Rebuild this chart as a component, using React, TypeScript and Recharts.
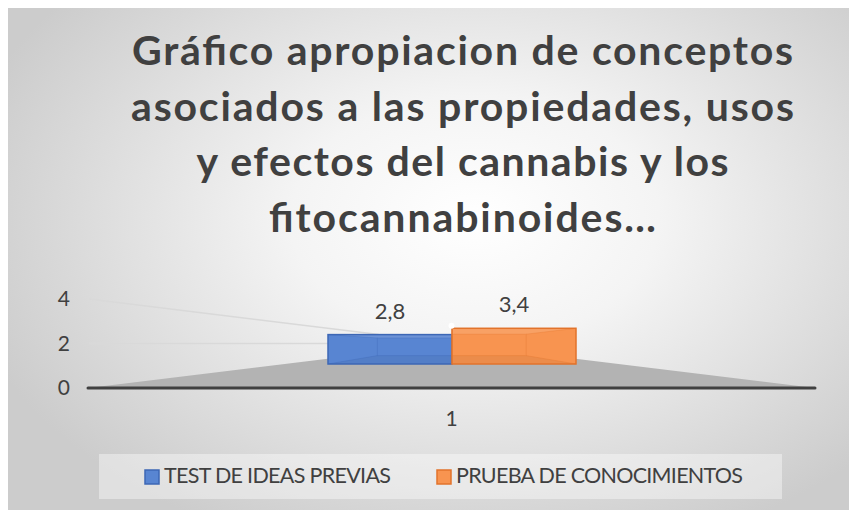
import { ComposedChart, Bar, Line, XAxis, YAxis, LabelList } from "recharts";

const categories = ["1"];
const testIdeasPrevias = [2.8];
const pruebaConocimientos = [3.4];
const yTicks = [0, 2, 4];
const seriesNames = ["TEST DE IDEAS PREVIAS", "PRUEBA DE CONOCIMIENTOS"];
const titleLines = [
  "Gráfico apropiacion de conceptos",
  "asociados a las propiedades, usos",
  "y efectos del cannabis y los",
  "fitocannabinoides…",
];

const data = categories.map((c, i) => ({
  name: c,
  test: testIdeasPrevias[i],
  prueba: pruebaConocimientos[i],
}));

const FONT = "Lato, 'Open Sans', sans-serif";
const INK = "#404040";
const BLUE = { fill: "#5885d2", stroke: "#3d67b5" };
const ORANGE = { fill: "#f89450", stroke: "#e2732b" };

const W = 849;
const H = 502;
const PLOT = { left: 80, right: 807, top: 291, bottom: 380 };
const BAR_SIZE = 124;
const BAR_BASE = 356; // where the boxes stand
const BAR_UNIT = 10.5; // px per unit on the boxes' plane
const HORIZON = 2; // eye level in axis units
const WALL_DEPTH = 0.2;
const BOX_DEPTH = 0.6;

const frontUnit = (PLOT.bottom - PLOT.top) / 4;
const vp = { x: (PLOT.left + PLOT.right) / 2, y: PLOT.bottom - HORIZON * frontUnit };
const toBack = (x: number, y: number, k: number) => [vp.x + (x - vp.x) * k, vp.y + (y - vp.y) * k];

const fmt = (v: any) => String(v).replace(".", ",");

function Box(props: any) {
  const { x, y, width, height, fill, stroke } = props;
  if (!height) return null;
  const right = x + width;
  const bottom = y + height;
  const cx = vp.x;
  const cy = bottom - HORIZON * BAR_UNIT;
  const b = (px: number, py: number) => [cx + (px - cx) * BOX_DEPTH, cy + (py - cy) * BOX_DEPTH];
  const [blx, bty] = b(x, y);
  const [brx, bby] = b(right, bottom);
  return (
    <g>
      <rect x={x} y={y} width={width} height={height} fill={fill} />
      <polygon points={`${x},${y} ${right},${y} ${brx},${bty} ${blx},${bty}`} fill="#fff" fillOpacity={0.12} />
      <polygon points={`${x},${bottom} ${right},${bottom} ${brx},${bby} ${blx},${bby}`} fill="#000" fillOpacity={0.05} />
      <g stroke={stroke} strokeOpacity={0.3} fill="none">
        <rect x={blx} y={bty} width={brx - blx} height={bby - bty} />
        <line x1={x} y1={y} x2={blx} y2={bty} />
        <line x1={right} y1={y} x2={brx} y2={bty} />
        <line x1={x} y1={bottom} x2={blx} y2={bby} />
        <line x1={right} y1={bottom} x2={brx} y2={bby} />
      </g>
      <rect x={x} y={y} width={width} height={height} fill="none" stroke={stroke} strokeWidth={1.5} />
    </g>
  );
}

function Backdrop() {
  const [blx, bly] = toBack(PLOT.left, PLOT.bottom, WALL_DEPTH);
  const [brx, bry] = toBack(PLOT.right, PLOT.bottom, WALL_DEPTH);
  const legendItems = [
    { name: seriesNames[0], ...BLUE, x: 137, len: 227 },
    { name: seriesNames[1], ...ORANGE, x: 429, len: 287 },
  ];
  return (
    <svg width={W} height={H} style={{ position: "absolute", left: 0, top: 0 }}>
      <polygon
        points={`${PLOT.left},${PLOT.bottom} ${PLOT.right},${PLOT.bottom} ${brx},${bry} ${blx},${bly}`}
        fill="#b3b3b3"
      />
      {yTicks
        .filter((t) => t > 0)
        .map((t) => {
          const fy = PLOT.bottom - t * frontUnit;
          const [bx, by] = toBack(PLOT.left, fy, WALL_DEPTH);
          return <line key={t} x1={PLOT.left + 1} y1={fy} x2={bx} y2={by} stroke="#d9d9d9" strokeWidth={1.5} />;
        })}
      {titleLines.map((line, i) => (
        <text
          key={i}
          x={454.5}
          y={57 + i * 55.5}
          textAnchor="middle"
          fontFamily={FONT}
          fontWeight={700}
          fontSize={41}
          fill={INK}
          textLength={[661, 663, 532, 387][i]}
        >
          {line}
        </text>
      ))}
      <rect x={91} y={446} width={683} height={45} fill="#fff" fillOpacity={0.4} />
      {legendItems.map((it) => (
        <g key={it.name}>
          <rect x={it.x} y={462} width={14} height={14} fill={it.fill} stroke={it.stroke} strokeWidth={1.5} />
          <text x={it.x + 19} y={475} fontFamily={FONT} fontSize={21.5} fill={INK} textLength={it.len}>
            {it.name}
          </text>
        </g>
      ))}
    </svg>
  );
}

export default function App() {
  const barDomain = [-(PLOT.bottom - BAR_BASE) / BAR_UNIT, (BAR_BASE - PLOT.top) / BAR_UNIT];
  return (
    <div
      style={{
        position: "relative",
        width: W,
        height: H,
        background:
          "radial-gradient(ellipse 62% 70% at 55% 42%, #ffffff 0%, #f4f4f4 35%, #d8d8d8 80%, #cccccc 100%)",
        fontFamily: FONT,
      }}
    >
      <Backdrop />
      <div style={{ position: "absolute", left: 0, top: 0 }}>
        <ComposedChart
          width={W}
          height={H}
          data={data}
          margin={{ top: PLOT.top, right: W - PLOT.right, bottom: H - PLOT.bottom - 30, left: 40 }}
          barSize={BAR_SIZE}
          barGap={0}
        >
          <XAxis
            dataKey="name"
            height={30}
            tickLine={false}
            tickSize={0}
            tickMargin={23}
            axisLine={{ stroke: "#404040", strokeWidth: 3, strokeLinecap: "round" }}
            tick={{ fill: INK, fontSize: 21, fontFamily: FONT }}
          />
          <YAxis
            yAxisId="front"
            width={40}
            type="number"
            domain={[0, 4]}
            ticks={yTicks}
            axisLine={false}
            tickLine={false}
            tickSize={0}
            tickMargin={18}
            tick={{ fill: INK, fontSize: 21, fontFamily: FONT }}
          />
          <YAxis yAxisId="box" hide orientation="right" width={0} domain={barDomain} allowDataOverflow type="number" />
          {/* keeps the front value axis bound to the data; draws nothing */}
          <Line yAxisId="front" dataKey="test" stroke="none" dot={false} activeDot={false} legendType="none" isAnimationActive={false} />
          <Bar yAxisId="box" dataKey="test" name={seriesNames[0]} fill={BLUE.fill} stroke={BLUE.stroke} shape={Box} isAnimationActive={false}>
            <LabelList dataKey="test" position="top" offset={16} formatter={fmt} fill={INK} fontSize={22} fontFamily={FONT} />
          </Bar>
          <Bar yAxisId="box" dataKey="prueba" name={seriesNames[1]} fill={ORANGE.fill} stroke={ORANGE.stroke} shape={Box} isAnimationActive={false}>
            <LabelList dataKey="prueba" position="top" offset={16} formatter={fmt} fill={INK} fontSize={22} fontFamily={FONT} />
          </Bar>
        </ComposedChart>
      </div>
    </div>
  );
}
